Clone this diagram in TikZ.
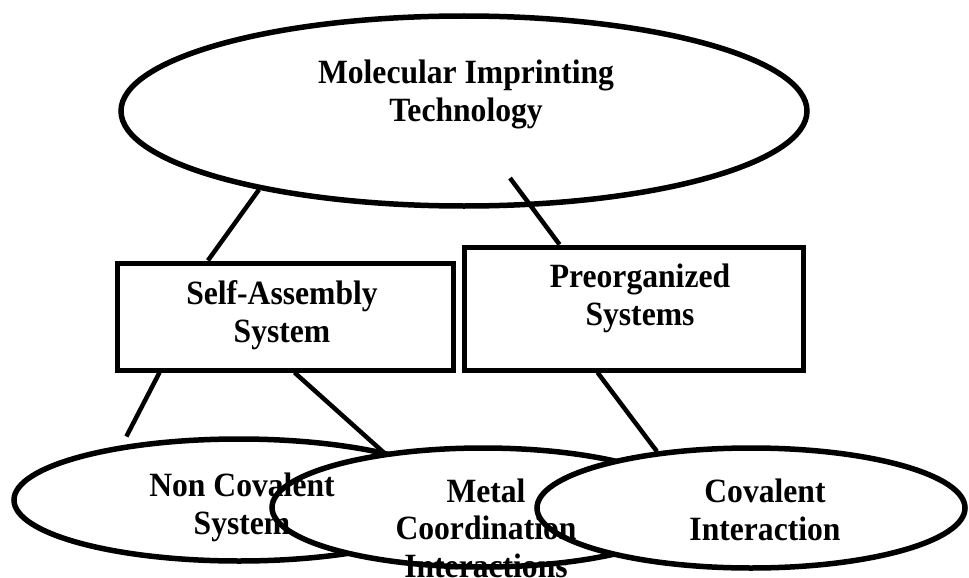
\documentclass[tikz,border=0pt]{standalone}
\usepackage{fontspec}
\setmainfont{Liberation Serif}[FakeStretch=0.93]
\usetikzlibrary{shapes.geometric}

\tikzset{
  oval/.style={draw, ellipse, fill=white, line width=5.5pt, inner sep=0pt},
  box/.style={draw, rectangle, fill=white, line width=5pt, inner sep=0pt},
  link/.style={line width=4.5pt},
  lbl/.style={align=center, anchor=base, inner sep=0pt, font=\bfseries\fontsize{34}{37.5}\selectfont}
}

\begin{document}
\begin{tikzpicture}[x=1pt, y=-1pt]
\useasboundingbox (0,0) rectangle (969,578);

% shapes
\node[oval, minimum width=686pt, minimum height=190pt] (mit) at (464,111) {};
\node[box, minimum width=336pt, minimum height=107pt] (sa) at (285,316.5) {};
\node[box, minimum width=339pt, minimum height=123pt] (po) at (633.5,308.5) {};
\node[oval, minimum width=450pt, minimum height=122pt] (nc) at (239,500) {};
\node[oval, minimum width=422pt, minimum height=119pt] (mci) at (483,507.5) {};
\node[oval, minimum width=428pt, minimum height=120pt] (ci) at (751,508) {};

% links
\draw[link] (mit.201.7) -- (sa.144.5);
\draw[link] ([shift={(46,67)}]mit.center) -- ([xshift=98pt]po.north west);
\draw[link, shorten >=10pt] ([xshift=45pt]sa.south west) -- (nc.155.1);
\draw[link] ([xshift=180pt]sa.south west) -- (mci.151.7);
\draw[link] ([xshift=136pt]po.south west) -- (ci.149.9);

% texts (base = last line)
\node[lbl] (mitt) at (466,121) {Molecular Imprinting\\Technology};
\node[lbl] (sat) at (282,342) {Self-Assembly\\System};
\node[lbl] (pot) at (640,325) {Preorganized\\Systems};
\node[lbl] (nct) at (242,534) {Non Covalent\\System};
\node[lbl] (mcit) at (486,577) {Metal\\Coordination\\Interactions};
\node[lbl] (cit) at (765,540) {Covalent\\Interaction};

\end{tikzpicture}
\end{document}
